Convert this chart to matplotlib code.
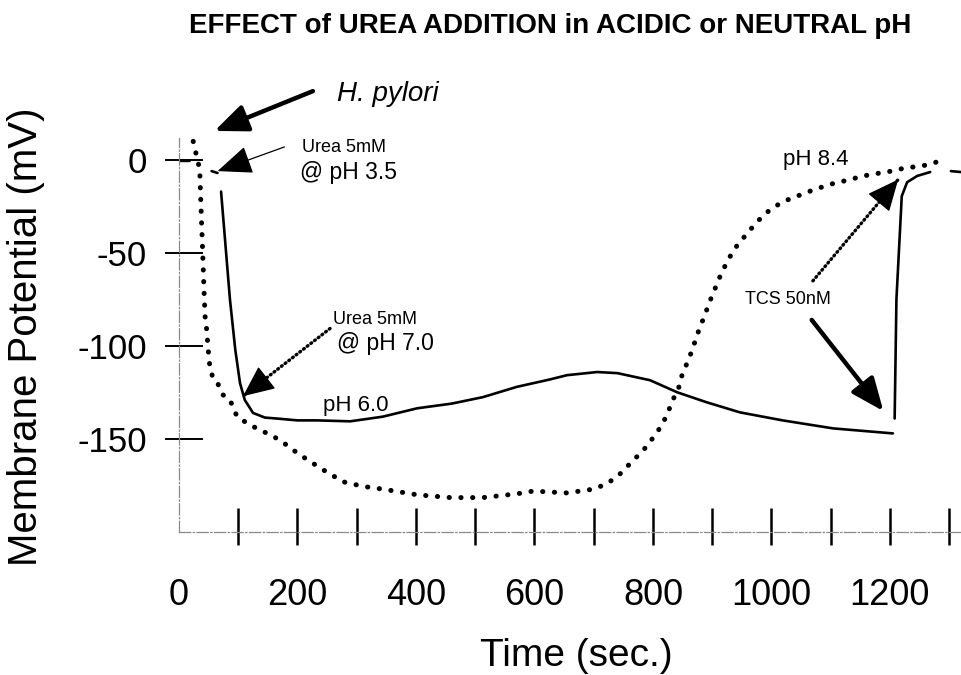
import numpy as np
import matplotlib
matplotlib.use("Agg")
import matplotlib.pyplot as plt
from matplotlib import font_manager

# --- data (time in s, membrane potential in mV) ---
# solid trace: urea added at pH 3.5, settles at pH 6.0, then TCS at ~1200 s
solid_t = [2, 18, np.nan, 55, 65, np.nan,
           71, 86, 95, 103, 111, 125, 145, 165, 200, 233, 289, 344, 402, 460,
           513, 570, 626, 655, 706, 740, 795, 841, 891, 947, 1019, 1104, 1205,
           np.nan, 1208, 1211, 1220, 1229, 1246, 1268, np.nan, 1303, 1320]
solid_mv = [-0.5, -0.5, np.nan, -6, -7, np.nan,
            -17, -75, -102, -120, -129, -136, -138.5, -139, -140, -140, -140.5, -138, -133.5, -131,
            -127.5, -122, -118, -115.7, -114, -114.6, -118.4, -124.9, -130.3, -135.7, -140, -144.3, -147,
            np.nan, -139, -75, -19.5, -12, -8.6, -6.5, np.nan, -6, -6.5]

# dotted trace: urea added at pH 7.0, drifts to pH 8.4
dot_t = [24, 30, 35, 36, 37, 38, 39, 40, 42, 44, 47, 49, 52, 57, 64, 73, 86, 98, 120, 149,
         170, 193, 216, 243, 277, 311, 345, 402, 458, 513, 570, 598, 655, 699, 723, 745,
         762, 784, 801, 812, 824, 832, 843, 850, 860, 869, 877, 888, 896, 916, 930, 944,
         958, 972, 989, 1006, 1023, 1043, 1065, 1085, 1107, 1130, 1150, 1171, 1195, 1217,
         1239, 1263, 1280]
dot_mv = [10, 1.6, -5, -15, -24, -33, -41, -50, -68, -84, -92, -101, -111, -117, -119, -126, -129,
          -138, -142.5, -147, -150.5, -156, -161, -166.5, -173, -175.5, -177, -180, -181.5, -181.5,
          -179.5, -178, -179, -177, -174, -168.6, -163, -156, -149, -144, -137, -130, -123, -114.6,
          -107.6, -99.5, -92, -83, -76, -60.5, -52, -45, -40, -34.6, -29, -25, -22, -19.5, -16.8,
          -14.6, -12.4, -10.8, -9, -7.6, -6.5, -4.9, -3.8, -2.7, -1]

y_ticks = [0, -50, -100, -150]
x_ticks = list(range(100, 1400, 100))
x_labels = list(range(0, 1400, 200))


def pick(*names):
    for n in names:
        try:
            font_manager.findfont(font_manager.FontProperties(family=n), fallback_to_default=False)
            return n
        except Exception:
            pass
    return "DejaVu Sans"


base = pick("Liberation Sans", "Arial")
plt.rcParams["font.family"] = [base, "DejaVu Sans"]

fig = plt.figure(figsize=(9.61, 6.75), dpi=100)
ax = fig.add_axes([179 / 961, 143 / 675, 782 / 961, 394 / 675])
ax.set_xlim(0, 1320)
ax.set_ylim(-200, 11.8)

ax.plot(solid_t, solid_mv, color="black", lw=1.9, solid_capstyle="round")
ax.plot(dot_t, dot_mv, color="black", lw=3.6, linestyle=(0, (0.05, 2.3)),
        dash_capstyle="round")

# axes lines: thin grey dash-dot like the scan
for side in ("top", "right"):
    ax.spines[side].set_visible(False)
for side in ("left", "bottom"):
    ax.spines[side].set_color("#8a8a8a")
    ax.spines[side].set_linewidth(0.9)
    ax.spines[side].set_linestyle((0, (9, 2, 1, 2)))

# tick marks crossing the axes (longer on the inside)
ax.vlines(x_ticks, -0.033, 0.061, transform=ax.get_xaxis_transform(),
          color="black", lw=1.8, clip_on=False)
ax.hlines(y_ticks, -0.018, 0.031, transform=ax.get_yaxis_transform(),
          color="black", lw=1.4, clip_on=False)

ax.set_xticks(x_labels)
ax.set_yticks(y_ticks)
ax.set_yticklabels([str(v) for v in y_ticks])
ax.tick_params(axis="x", length=0, pad=33, labelsize=26)
ax.tick_params(axis="y", length=0, pad=23, labelsize=25)

fig.text(26 / 961, 1 - 337 / 675, "Membrane Potential (mV)", rotation=90,
         ha="center", va="center", fontsize=29)
fig.text(576 / 961, 1 - 656 / 675, "Time (sec.)", ha="center", va="center", fontsize=28)
fig.text(550 / 961, 1 - 26 / 675, "EFFECT of UREA ADDITION in ACIDIC or NEUTRAL pH",
         ha="center", va="center", fontsize=20, fontweight="bold")

# annotations
big = dict(arrowstyle="-|>,head_length=1.0,head_width=0.42", color="black", lw=3.2,
           shrinkA=0, shrinkB=0, mutation_scale=20)


def dotted_arrow(tip, tail, frac=0.18):
    # dotted shaft, then a solid filled head at the tip
    ax.annotate("", xy=tip, xytext=tail,
                arrowprops=dict(arrowstyle="-", color="black", lw=2.4,
                                linestyle=(0, (0.3, 1.1)), capstyle="round",
                                shrinkA=0, shrinkB=0))
    start = (tip[0] + frac * (tail[0] - tip[0]), tip[1] + frac * (tail[1] - tip[1]))
    ax.annotate("", xy=tip, xytext=start,
                arrowprops=dict(arrowstyle="-|>,head_length=1.0,head_width=0.45",
                                color="black", lw=1, shrinkA=0, shrinkB=0,
                                mutation_scale=20))


ax.annotate("", xy=(60, 15.6), xytext=(226, 37), arrowprops=big, annotation_clip=False)
ax.text(266, 35.6, "H. pylori", fontsize=20, style="italic", ha="left", va="center", clip_on=False)

ax.annotate("", xy=(65, -6), xytext=(178, 7),
            arrowprops=dict(arrowstyle="-|>,head_length=1.1,head_width=0.45", color="black",
                            lw=0.9, shrinkA=0, shrinkB=0, mutation_scale=20))
ax.text(207, 6.5, "Urea 5mM", fontsize=13, ha="left", va="center")
ax.text(204, -7, "@ pH 3.5", fontsize=16.5, ha="left", va="center")

dotted_arrow((108, -127), (255, -90.6))
ax.text(260, -85.7, "Urea 5mM", fontsize=13, ha="left", va="center")
ax.text(266, -98.7, "@ pH 7.0", fontsize=16.5, ha="left", va="center")

ax.text(243, -132, "pH 6.0", fontsize=16, ha="left", va="center")
ax.text(1020, 0, "pH 8.4", fontsize=16, ha="left", va="center")
ax.text(956, -75, "TCS 50nM", fontsize=13, ha="left", va="center")

dotted_arrow((1214, -10.5), (1070, -65))
ax.annotate("", xy=(1189, -135), xytext=(1068, -86), arrowprops=big)

fig.savefig("out.png", dpi=100)
